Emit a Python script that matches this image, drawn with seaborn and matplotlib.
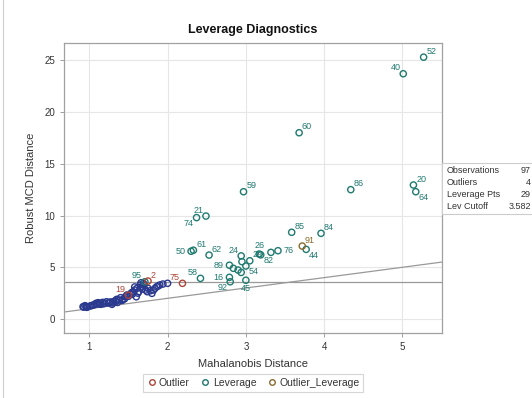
import numpy as np
import pandas as pd
import matplotlib
matplotlib.use("Agg")
import matplotlib.pyplot as plt
from matplotlib.lines import Line2D
from matplotlib.patches import Rectangle
import seaborn as sns

# ---------------- data ----------------
normal_x = [0.92, 0.945, 0.967, 1.01, 1.05, 1.086, 1.115, 1.145, 1.17, 1.20, 1.22, 1.26, 1.29,
            1.31, 1.33, 1.35, 1.38, 1.40, 1.43, 1.46, 1.48, 1.52, 1.54, 1.56, 1.58, 1.60, 1.61,
            1.63, 1.65, 1.67, 1.69, 1.72, 1.74, 1.75, 1.78, 1.80, 1.82, 1.84, 1.86, 1.88, 1.90,
            1.94, 2.00, 0.93, 0.96, 0.98, 1.03, 1.07, 1.10, 1.13, 1.18, 1.24, 1.27, 1.30, 1.34,
            1.36, 1.42, 1.45, 1.50, 1.55, 1.62, 1.68, 1.70, 1.58, 1.66]
normal_y = [1.19, 1.29, 1.13, 1.26, 1.35, 1.52, 1.58, 1.42, 1.61, 1.52, 1.67, 1.58, 1.42,
            1.67, 1.77, 1.90, 1.84, 2.06, 1.90, 2.15, 2.32, 2.39, 2.54, 2.64, 2.80, 2.15, 2.97,
            2.64, 3.29, 3.12, 3.45, 2.80, 2.64, 2.97, 2.73, 2.48, 2.80, 2.97, 3.12, 3.19, 3.29,
            3.38, 3.45, 1.15, 1.22, 1.18, 1.30, 1.40, 1.45, 1.50, 1.48, 1.55, 1.65, 1.55, 1.70,
            1.60, 1.80, 1.95, 2.20, 2.40, 2.50, 2.90, 3.30, 3.10, 3.50]

lev_id = ["52", "40", "60", "20", "64", "86", "59", "21", "74", "85", "84", "44", "50", "61",
          "62", "24", "26", "82", "", "76", "89", "", "", "", "", "29", "54", "16", "58",
          "92", "45", "95"]
lev_x = [5.27, 5.01, 3.68, 5.14, 5.17, 4.34, 2.97, 2.49, 2.37, 3.585, 3.96, 3.77, 2.30, 2.33,
         2.53, 2.94, 3.17, 3.19, 3.32, 3.41, 2.79, 2.84, 2.90, 2.94, 2.95, 3.05, 3.00, 2.79, 2.42,
         2.80, 3.00, 1.71]
lev_y = [25.3, 23.7, 18.0, 12.95, 12.3, 12.5, 12.3, 9.95, 9.8, 8.38, 8.28, 6.73, 6.55, 6.65,
         6.18, 6.1, 6.28, 6.2, 6.44, 6.6, 5.2, 4.9, 4.73, 4.5, 5.54, 5.63, 5.12, 4.03, 3.93,
         3.6, 3.75, 3.6]
lev_pos = ["ur", "ul", "ur", "ur", "dr", "ur", "ur", "ul", "dl", "ur", "ur", "dr", "l", "ur",
           "ur", "ul", "u", "dr", "", "r", "l", "", "", "", "", "ur", "dr", "l", "ul",
           "dl", "d", "ul"]

out_id = ["19", "2", "75"]
out_x = [1.50, 1.75, 2.19]
out_y = [2.30, 3.67, 3.45]
out_pos = ["ul", "ur", "ul"]

ol_id = ["91"]
ol_x = [3.72]
ol_y = [7.05]
ol_pos = ["ur"]

lev_cutoff = 3.582
stats_names = ["Observations", "Outliers", "Leverage Pts", "Lev Cutoff"]
stats_vals = ["97", "4", "29", "3.582"]

categories = ["Normal", "Outlier", "Leverage", "Outlier_Leverage"]
colors = {"Normal": "#2b3a8f", "Outlier": "#b0463a", "Leverage": "#1f7a70",
          "Outlier_Leverage": "#8a6a2c"}

df = pd.concat([
    pd.DataFrame({"x": normal_x, "y": normal_y, "type": "Normal", "id": "", "pos": ""}),
    pd.DataFrame({"x": lev_x, "y": lev_y, "type": "Leverage", "id": lev_id, "pos": lev_pos}),
    pd.DataFrame({"x": out_x, "y": out_y, "type": "Outlier", "id": out_id, "pos": out_pos}),
    pd.DataFrame({"x": ol_x, "y": ol_y, "type": "Outlier_Leverage", "id": ol_id, "pos": ol_pos}),
], ignore_index=True)

# ---------------- plot ----------------
sns.set_theme(style="white")
plt.rcParams["font.family"] = ["Liberation Sans", "DejaVu Sans"]

fig = plt.figure(figsize=(5.32, 3.98), dpi=100)
ax = fig.add_axes([64 / 532, 1 - 333 / 398, (442 - 64) / 532, (333 - 43) / 398])

ax.set_xlim(0.677, 5.505)
ax.set_ylim(-1.35, 26.67)
ax.set_xticks([1, 2, 3, 4, 5])
ax.set_yticks([0, 5, 10, 15, 20, 25])
ax.grid(True, color="#e6e6e6", linewidth=0.8)
ax.set_axisbelow(True)

xx = np.array(ax.get_xlim())
ax.plot(xx, xx, color="#999999", linewidth=0.9, zorder=1)
ax.axhline(lev_cutoff, color="#999999", linewidth=0.9, zorder=1)

sns.scatterplot(data=df, x="x", y="y", hue="type", hue_order=categories, palette=colors,
                s=20, ax=ax, legend=False, zorder=3)
for coll in ax.collections:
    fc = coll.get_facecolors()
    coll.set_edgecolors(fc)
    coll.set_facecolors("none")
    coll.set_linewidths(1.0)

offs = {"ur": (2, 1, "left", "bottom"), "ul": (-2, 1, "right", "bottom"),
        "dr": (2, -1, "left", "top"), "dl": (-2, -1, "right", "top"),
        "l": (-4, 0, "right", "center"), "r": (4, 0, "left", "center"),
        "u": (0, 3, "center", "bottom"), "d": (0, -3, "center", "top")}
for _, row in df.iterrows():
    if row["id"] and row["pos"]:
        dx, dy, ha, va = offs[row["pos"]]
        ax.annotate(row["id"], (row["x"], row["y"]), xytext=(dx, dy), textcoords="offset points",
                    ha=ha, va=va, fontsize=6.5, color=colors[row["type"]], zorder=4)

for s in ax.spines.values():
    s.set_color("#a0a0a0")
    s.set_linewidth(0.9)
ax.tick_params(axis="both", which="both", length=3, width=0.7, color="#a0a0a0",
               labelsize=7, labelcolor="#333333", direction="out", bottom=True, left=True)

ax.set_xlabel("Mahalanobis Distance", fontsize=8, color="#333333", labelpad=5)
ax.set_ylabel("Robust MCD Distance", fontsize=8, color="#333333", labelpad=6)
ax.set_title("Leverage Diagnostics", fontsize=9, fontweight="bold", color="#111111", pad=7)

handles = [Line2D([], [], marker="o", linestyle="none", markerfacecolor="none",
                  markeredgecolor=colors[c], markersize=4, markeredgewidth=1.0, label=c)
           for c in ["Outlier", "Leverage", "Outlier_Leverage"]]
leg = fig.legend(handles=handles, loc="center", bbox_to_anchor=(253 / 532, 1 - 383 / 398),
                 ncol=3, fontsize=7.5, frameon=True, fancybox=False, handletextpad=0.2,
                 columnspacing=1.0, borderpad=0.35, handlelength=1.0)
leg.get_frame().set_edgecolor("#cccccc")
leg.get_frame().set_linewidth(0.8)
for t in leg.get_texts():
    t.set_color("#333333")

# statistics inset table
fig.add_artist(Rectangle((442 / 532, 1 - 214 / 398), 92 / 532, 51 / 398,
                         transform=fig.transFigure, facecolor="white",
                         edgecolor="#cccccc", linewidth=0.8))
for i, (nm, v) in enumerate(zip(stats_names, stats_vals)):
    yy = 1 - (171 + i * 11.8) / 398
    fig.text(447 / 532, yy, nm, fontsize=6.5, color="#333333", va="center", ha="left")
    fig.text(531 / 532, yy, v, fontsize=6.5, color="#333333", va="center", ha="right")

# figure border
fig.add_artist(Line2D([3 / 532, 3 / 532], [0, 1], transform=fig.transFigure,
                      color="#cccccc", linewidth=0.8))

fig.savefig("out.png", dpi=100)
